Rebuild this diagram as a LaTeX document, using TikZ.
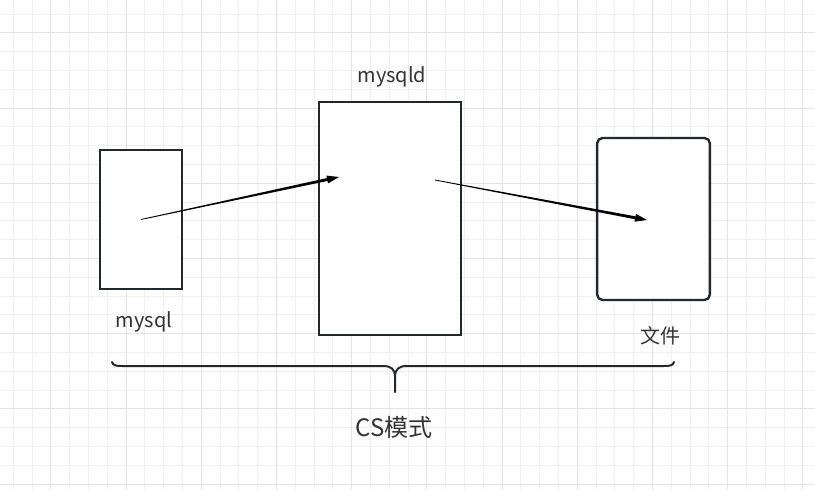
\documentclass[tikz,border=0pt]{standalone}
\usepackage{fontspec}
\usepackage{tikz}
\usetikzlibrary{calc,positioning}
\setmainfont{Noto Sans CJK SC}
\definecolor{boxline}{RGB}{35,39,46}
\definecolor{gridminor}{RGB}{240,240,240}
\definecolor{gridmajor}{RGB}{228,228,228}
\definecolor{labelgray}{RGB}{51,51,51}

% tapered arrow, thin at #1, head at #2
\newcommand{\taperarrow}[2]{%
\coordinate (tk) at ($(#2)!9pt!(#1)$);
\fill[black] ($(#1)!0.3pt!90:(#2)$) -- ($(tk)!1.1pt!-90:(#1)$) -- ($(tk)!3pt!-90:(#1)$) -- (#2)
  -- ($(tk)!3pt!90:(#1)$) -- ($(tk)!1.1pt!90:(#1)$) -- ($(#1)!0.3pt!-90:(#2)$) -- cycle;}

\begin{document}
\begin{tikzpicture}[x=0.75pt, y=-0.75pt,
  box/.style={draw=boxline, line width=1.5pt, fill=white, inner sep=0pt},
  lbl/.style={text=labelgray, font=\fontsize{15}{17}\selectfont},
  bracelin/.style={draw=boxline, line width=1.5pt, line cap=round}]
\useasboundingbox (0,0) rectangle (815,490);
\fill[white] (0,0) rectangle (815,490);
% grid
\foreach \gx in {13.3,32.1,...,815} \draw[gridminor, line width=0.75pt] (\gx,0) -- (\gx,490);
\foreach \gy in {14,32.8,...,490} \draw[gridminor, line width=0.75pt] (0,\gy) -- (815,\gy);
\foreach \gx in {50.9,126.1,...,815} \draw[gridmajor, line width=0.75pt] (\gx,0) -- (\gx,490);
\foreach \gy in {32.8,108,...,490} \draw[gridmajor, line width=0.75pt] (0,\gy) -- (815,\gy);

\node[box, minimum width=61.5pt, minimum height=104pt] (mysql) at (141,219.5) {};
\node[box, minimum width=106.5pt, minimum height=175pt] (mysqld) at (390,218.5) {};
\node[box, rounded corners=4pt, line width=1.8pt, minimum width=84.5pt, minimum height=121.5pt] (file) at (653.5,219) {};

\node[lbl] (mysqlTxt) at (144,322) {mysql};
\node[lbl] (mysqldTxt) at (392,77) {mysqld};
\node[lbl] (fileTxt) at (660,336) {文件};
\node[lbl, font=\fontsize{18}{20}\selectfont] (csTxt) at (394,427) {CS模式};

\coordinate (a1e) at (339,177);
\coordinate (a2s) at (435,180);
\coordinate (a2e) at (647,220);
\taperarrow{mysql.center}{a1e}
\taperarrow{a2s}{a2e}

% brace
\draw[bracelin] (112,362) .. controls (113,365.5) and (116,366) .. (122,366) -- (383,366)
  .. controls (391,366) and (395,369) .. (395,377) -- (395,392);
\draw[bracelin] (674,362) .. controls (673,365.5) and (670,366) .. (664,366) -- (407,366)
  .. controls (399,366) and (395,369) .. (395,377);
\end{tikzpicture}
\end{document}
